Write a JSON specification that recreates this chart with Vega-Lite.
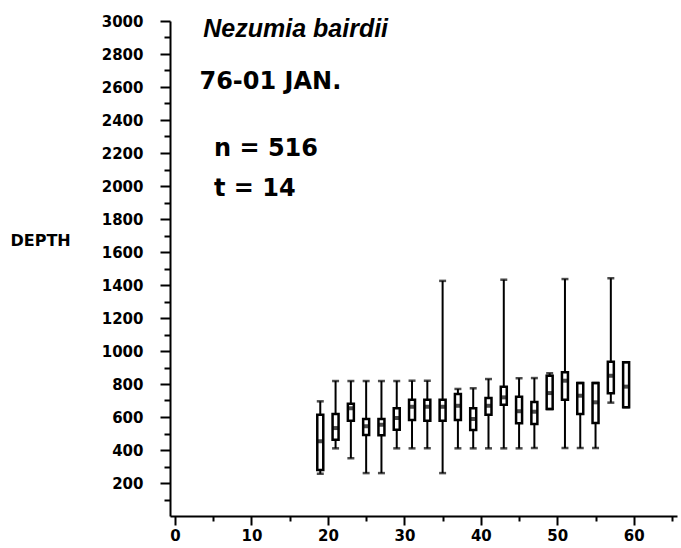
{
  "$schema": "https://vega.github.io/schema/vega-lite/v6.json",
  "width": 507,
  "height": 495,
  "padding": {"left": 10, "top": 14, "right": 4, "bottom": 4},
  "background": "white",
  "config": {
    "view": {"stroke": null},
    "font": "DejaVu Sans",
    "axis": {
      "domainColor": "black", "domainWidth": 2, "tickColor": "black", "tickWidth": 2,
      "labelColor": "black", "labelFont": "DejaVu Sans", "labelFontWeight": "bold", "labelFontSize": 15,
      "grid": false, "labelOverlap": false
    }
  },
  "resolve": {"axis": {"y": "independent"}, "scale": {"y": "shared"}},
  "data": {"values": [
    {"len": 19, "min": 256, "q1": 279, "median": 453, "q3": 614, "max": 695},
    {"len": 21, "min": 410, "q1": 462, "median": 533, "q3": 618, "max": 818},
    {"len": 23, "min": 350, "q1": 578, "median": 653, "q3": 681, "max": 818},
    {"len": 25, "min": 260, "q1": 491, "median": 544, "q3": 588, "max": 818},
    {"len": 27, "min": 260, "q1": 489, "median": 553, "q3": 588, "max": 818},
    {"len": 29, "min": 410, "q1": 523, "median": 594, "q3": 653, "max": 818},
    {"len": 31, "min": 410, "q1": 582, "median": 662, "q3": 705, "max": 820},
    {"len": 33, "min": 410, "q1": 578, "median": 662, "q3": 705, "max": 820},
    {"len": 35, "min": 260, "q1": 578, "median": 662, "q3": 705, "max": 1425},
    {"len": 37, "min": 410, "q1": 582, "median": 668, "q3": 739, "max": 770},
    {"len": 39, "min": 410, "q1": 521, "median": 588, "q3": 653, "max": 774},
    {"len": 41, "min": 410, "q1": 614, "median": 668, "q3": 715, "max": 830},
    {"len": 43, "min": 410, "q1": 675, "median": 719, "q3": 784, "max": 1432},
    {"len": 45, "min": 410, "q1": 562, "median": 635, "q3": 723, "max": 835},
    {"len": 47, "min": 412, "q1": 558, "median": 632, "q3": 691, "max": 836},
    {"len": 49, "min": 648, "q1": 648, "median": 745, "q3": 850, "max": 865},
    {"len": 51, "min": 412, "q1": 705, "median": 820, "q3": 871, "max": 1436},
    {"len": 53, "min": 412, "q1": 618, "median": 729, "q3": 806, "max": 806},
    {"len": 55, "min": 412, "q1": 564, "median": 689, "q3": 806, "max": 806},
    {"len": 57, "min": 687, "q1": 744, "median": 850, "q3": 935, "max": 1441},
    {"len": 59, "min": 659, "q1": 659, "median": 784, "q3": 932, "max": 932}
  ]},
  "encoding": {
    "x": {
      "field": "len", "type": "quantitative",
      "scale": {"domain": [0, 65], "nice": false, "zero": false},
      "axis": {
        "title": null,
        "values": [0, 5, 10, 15, 20, 25, 30, 35, 40, 45, 50, 55, 60, 65],
        "labelExpr": "datum.value % 10 === 0 && datum.value <= 60 ? datum.label : ''",
        "tickSize": {"condition": {"test": "datum.value % 10 === 0", "value": 9}, "value": 5},
        "labelPadding": 3,
        "labelFlush": false
      }
    }
  },
  "layer": [
    {
      "mark": {"type": "rule", "color": "black", "strokeWidth": 2},
      "encoding": {
        "y": {
          "field": "min", "type": "quantitative",
          "scale": {"domain": [0, 3000], "nice": false},
          "axis": {
            "orient": "left",
            "title": "DEPTH",
            "titleAngle": 0, "titleAlign": "left", "titleBaseline": "middle",
            "titleX": -160, "titleY": 219,
            "titleFont": "DejaVu Sans", "titleFontWeight": "bold", "titleFontSize": 16, "titleColor": "black",
            "values": [100, 200, 300, 400, 500, 600, 700, 800, 900, 1000, 1100, 1200, 1300, 1400, 1500, 1600, 1700, 1800, 1900, 2000, 2100, 2200, 2300, 2400, 2500, 2600, 2700, 2800, 2900, 3000],
            "labelExpr": "datum.value % 200 === 0 ? '' + datum.value : ''",
            "tickSize": {"condition": {"test": "datum.value % 200 === 0", "value": 10}, "value": 6},
            "labelPadding": 17
          }
        },
        "y2": {"field": "max"}
      }
    },
    {
      "mark": {"type": "bar", "fill": "white", "stroke": "black", "strokeWidth": 2.5, "size": 6},
      "encoding": {
        "y": {"field": "q1", "type": "quantitative", "axis": null},
        "y2": {"field": "q3"}
      }
    },
    {
      "mark": {"type": "tick", "orient": "horizontal", "color": "black", "size": 7, "thickness": 4},
      "encoding": {"y": {"field": "median", "type": "quantitative", "axis": null}}
    },
    {
      "mark": {"type": "tick", "orient": "horizontal", "color": "black", "size": 7, "thickness": 2.5},
      "encoding": {"y": {"field": "max", "type": "quantitative", "axis": null}}
    },
    {
      "mark": {"type": "tick", "orient": "horizontal", "color": "black", "size": 7, "thickness": 2.5},
      "encoding": {"y": {"field": "min", "type": "quantitative", "axis": null}}
    },
    {
      "transform": [{"filter": "datum.len === 19"}],
      "mark": {"type": "text", "align": "left", "baseline": "alphabetic", "font": "Liberation Sans", "fontStyle": "italic", "fontWeight": "bold", "fontSize": 25, "color": "black"},
      "encoding": {"x": {"datum": 3.7}, "y": {"datum": 2903, "axis": null}, "text": {"value": "Nezumia bairdii"}}
    },
    {
      "transform": [{"filter": "datum.len === 19"}],
      "mark": {"type": "text", "align": "left", "baseline": "alphabetic", "font": "DejaVu Sans", "fontWeight": "bold", "fontSize": 24, "color": "black"},
      "encoding": {"x": {"datum": 3.2}, "y": {"datum": 2588, "axis": null}, "text": {"value": "76-01 JAN."}}
    },
    {
      "transform": [{"filter": "datum.len === 19"}],
      "mark": {"type": "text", "align": "left", "baseline": "alphabetic", "font": "DejaVu Sans", "fontWeight": "bold", "fontSize": 24, "color": "black"},
      "encoding": {"x": {"datum": 5.1}, "y": {"datum": 2182, "axis": null}, "text": {"value": "n = 516"}}
    },
    {
      "transform": [{"filter": "datum.len === 19"}],
      "mark": {"type": "text", "align": "left", "baseline": "alphabetic", "font": "DejaVu Sans", "fontWeight": "bold", "fontSize": 24, "color": "black"},
      "encoding": {"x": {"datum": 5.1}, "y": {"datum": 1939, "axis": null}, "text": {"value": "t = 14"}}
    }
  ]
}
